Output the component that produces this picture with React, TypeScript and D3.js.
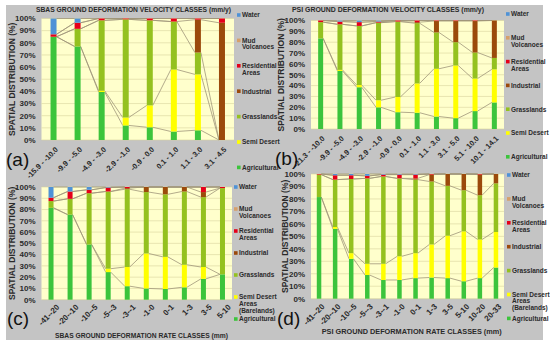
import * as d3 from "d3";
import React from "react";

// stack order, bottom to top
const classKeys = ["Agricultural", "Semi Desert", "Grasslands", "Industrial", "Residential", "Mud Volcanoes", "Water"];
const classColors = ["#3cc43c", "#ffff00", "#94c11f", "#9b4a0b", "#e5001a", "#d6a06a", "#4f92d6"];

const legendShort = [["Water"], ["Mud", "Volcanoes"], ["Residential", "Areas"], ["Industrial"], ["Grasslands"], ["Semi Desert"], ["Agricultural"]];
const legendLong = [["Water"], ["Mud", "Volcanoes"], ["Residential", "Areas"], ["Industrial"], ["Grasslands"], ["Semi Desert", "Areas", "(Barelands)"], ["Agricultural"]];

const yTicks = [0, 10, 20, 30, 40, 50, 60, 70, 80, 90, 100];

// (a) SBAS velocity classes (mm/y)
const sbasVelCats = ["-15.9 - -10.0", "-9.9 - -5.0", "-4.9 - -3.0", "-2.9 - -1.0", "-0.9 - 0.0", "0.1 - 1.0", "1.1 - 3.0", "3.1 - 4.5"];
// [agricultural, semi desert, grasslands, industrial, residential, mud volcanoes, water]
const sbasVelValues = [
  [85, 0, 0, 0, 2, 0, 13],
  [77, 0, 14.5, 0, 5, 0, 3.5],
  [39.5, 1, 58, 0, 1.5, 0, 0],
  [12, 6.5, 80.8, 0, 0.7, 0, 0],
  [10.5, 18, 70, 0, 1.5, 0, 0],
  [7, 51, 39.5, 0, 2.5, 0, 0],
  [8, 46, 18, 27, 1, 0, 0],
  [0, 0, 0, 96.5, 3.5, 0, 0],
];

// (b) PSI velocity classes (mm/y)
const psiVelCats = ["-21.3 - -10.0", "-9.9 - -5.0", "-4.9 - -3.0", "-2.9 - -1.0", "-0.9 - 0.0", "0.1 - 1.0", "1.1 - 3.0", "3.1 - 5.0", "5.1 - 10.0", "10.1 - 14.1"];
const psiVelValues = [
  [83.5, 0, 15, 0, 1.5, 0, 0],
  [53.5, 1, 42, 0, 2.5, 0, 1],
  [38.5, 2, 54.5, 0, 3.5, 0, 1.5],
  [20, 6.5, 71.5, 0, 1, 0, 1],
  [15.5, 14, 69.5, 0, 1, 0, 0],
  [15, 27, 55.5, 1, 1.5, 0, 0],
  [11.5, 44, 33.5, 10.5, 0.5, 0, 0],
  [10, 48.5, 21.5, 19.5, 0.5, 0, 0],
  [16.5, 30, 24, 29, 0.5, 0, 0],
  [24.5, 30.5, 10.5, 34.5, 0, 0, 0],
];

// (c) SBAS rate classes (mm)
const sbasRateCats = ["-41--20", "-20--10", "-10--5", "-5--3", "-3--1", "-1-0", "0-1", "1-3", "3-5", "5-10"];
const sbasRateValues = [
  [81.5, 0, 6, 0, 3, 0, 9.5],
  [75.5, 0, 14, 0, 6.5, 0, 4],
  [49, 0, 45.5, 0, 3, 0, 2.5],
  [24.5, 3, 68.5, 0, 3.5, 0, 0.5],
  [12, 17, 69, 1, 1, 0, 0],
  [10, 31, 54.5, 4.5, 0, 0, 0],
  [9.5, 28.5, 55.5, 6.5, 0, 0, 0],
  [11, 20, 65, 4, 0, 0, 0],
  [18.5, 10.5, 62, 4.5, 4.5, 0, 0],
  [22.5, 0, 76.5, 0, 1, 0, 0],
];

// (d) PSI rate classes (mm)
const psiRateCats = ["-41--20", "-20--10", "-10--5", "-5--3", "-3--1", "-1-0", "0-1", "1-3", "3-5", "5-10", "10-20", "20-33"];
const psiRateValues = [
  [81.5, 0, 18, 0, 0.5, 0, 0],
  [56, 1.5, 38, 0, 3.5, 0, 1],
  [32, 4.5, 59.5, 0, 3, 0, 1],
  [19, 9, 68.5, 0, 2, 0, 1.5],
  [15, 13, 70, 0, 1.5, 0, 0.5],
  [15, 19, 62.5, 0, 3, 0, 0.5],
  [16.5, 20, 59, 1, 3, 0, 0.5],
  [17, 26.5, 50.5, 5.5, 0.5, 0, 0],
  [16.5, 34, 40, 9.5, 0, 0, 0],
  [14, 40, 33, 13, 0, 0, 0],
  [16.5, 31, 35.5, 16.5, 0.5, 0, 0],
  [25, 28.5, 39, 7.5, 0, 0, 0],
];

const FONT = "'Liberation Sans', Arial, sans-serif";

interface PanelProps {
  cats: string[];
  values: number[][];
  left: number;
  right: number;
  top: number;
  bottom: number;
  barW: number;
  title: string;
  titleX: number;
  titleY: number;
  titleLen: number;
  legend: string[][];
  legendX: number;
  legendY: number;
  legendStep: number;
  labelSize: number;
  labelDx: number;
  labelDy: number;
  letter: string;
  letterX: number;
  letterY: number;
  yTitleX: number;
}

const Panel = (p: PanelProps) => {
  const rows = p.values.map((v, i) => {
    const r: any = { cat: p.cats[i] };
    classKeys.forEach((k, j) => (r[k] = v[j]));
    return r;
  });
  const series = d3.stack<any>().keys(classKeys)(rows);

  const x = d3.scaleBand<string>().domain(p.cats).range([p.left, p.right]).padding(0);
  const y = d3.scaleLinear().domain([0, 100]).range([p.bottom, p.top]);
  const bw = p.barW;
  const cx = (c: string) => (x(c) ?? 0) + x.bandwidth() / 2;

  return (
    <g fontFamily={FONT}>
      <rect x={p.left} y={p.top} width={p.right - p.left} height={p.bottom - p.top} fill="#ffffcc" />
      {yTicks.map((t) => (
        <line key={t} x1={p.left} x2={p.right} y1={y(t)} y2={y(t)} stroke="#d8d49e" strokeWidth={0.6} />
      ))}
      {/* series lines */}
      {series.map((s, i) =>
        s.slice(0, -1).map((d, j) => (
          <line
            key={`sl${i}-${j}`}
            x1={cx(p.cats[j]) + bw / 2}
            y1={y(d[1])}
            x2={cx(p.cats[j + 1]) - bw / 2}
            y2={y(s[j + 1][1])}
            stroke="#a0967a"
            strokeWidth={0.8}
          />
        ))
      )}
      {series.map((s, i) =>
        s.map((d, j) => (
          <rect
            key={`b${i}-${j}`}
            x={cx(p.cats[j]) - bw / 2}
            y={y(d[1])}
            width={bw}
            height={Math.max(0, y(d[0]) - y(d[1]))}
            fill={classColors[i]}
          />
        ))
      )}
      {yTicks.map((t) => (
        <text key={`yl${t}`} x={p.left - 6} y={y(t) + 2.8} textAnchor="end" fontSize={8} fontWeight="bold" fill="#2a2a2a">
          {t}%
        </text>
      ))}
      <text
        transform={`translate(${p.yTitleX},${(p.top + p.bottom) / 2}) rotate(-90)`}
        textAnchor="middle"
        fontSize={8.5}
        fontWeight="bold"
        fill="#2a2a2a"
      >
        SPATIAL DISTRIBUTION (%)
      </text>
      {p.cats.map((c) => (
        <text
          key={`xl${c}`}
          transform={`translate(${cx(c) + p.labelDx},${p.bottom + p.labelDy}) rotate(-45)`}
          textAnchor="end"
          fontSize={p.labelSize}
          fontWeight="bold"
          fill="#2a2a2a"
        >
          {c}
        </text>
      ))}
      <text
        x={p.titleX}
        y={p.titleY}
        textAnchor="middle"
        fontSize={7}
        fontWeight="bold"
        fill="#2a2a2a"
        textLength={p.titleLen}
        lengthAdjust="spacingAndGlyphs"
      >
        {p.title}
      </text>
      {p.legend.map((lines, i) => {
        const ly = p.legendY + i * p.legendStep;
        return (
          <g key={`lg${i}`}>
            <rect x={p.legendX} y={ly - 1.8} width={3.6} height={3.6} fill={classColors[classKeys.length - 1 - i]} />
            {lines.map((ln, k) => (
              <text key={k} x={p.legendX + 5} y={ly + 2.3 + k * 6.6} fontSize={6.5} fontWeight="bold" fill="#2a2a2a">
                {ln}
              </text>
            ))}
          </g>
        );
      })}
      <text x={p.letterX} y={p.letterY} fontSize={19} fill="#111">
        {p.letter}
      </text>
    </g>
  );
};

const App = () => {
  return (
    <svg width={550} height={344} style={{ position: "absolute", left: 0, top: 0 }}>
      <rect x={0} y={0} width={550} height={344} fill="#ffffff" />
      <rect x={6} y={5} width={537} height={335} fill="#c4c4c4" />
      <Panel
        cats={sbasVelCats}
        values={sbasVelValues}
        left={41.5}
        right={234}
        top={18.5}
        bottom={140}
        barW={6}
        title="SBAS GROUND DEFORMATION VELOCITY CLASSES (mm/y)"
        titleX={133.5}
        titleY={11.5}
        titleLen={195}
        legend={legendShort}
        legendX={237}
        legendY={15}
        legendStep={25.4}
        labelSize={7.5}
        labelDx={5}
        labelDy={10}
        letter="(a)"
        letterX={6}
        letterY={166}
        yTitleX={15}
      />
      <Panel
        cats={psiVelCats}
        values={psiVelValues}
        left={311}
        right={504}
        top={20.5}
        bottom={129}
        barW={5}
        title="PSI GROUND DEFORMATION VELOCITY CLASSES (mm/y)"
        titleX={388}
        titleY={12}
        titleLen={192}
        legend={legendShort}
        legendX={506}
        legendY={14}
        legendStep={23.8}
        labelSize={7.5}
        labelDx={4.5}
        labelDy={10}
        letter="(b)"
        letterX={275}
        letterY={165}
        yTitleX={284}
      />
      <Panel
        cats={sbasRateCats}
        values={sbasRateValues}
        left={41.5}
        right={232}
        top={187}
        bottom={299.7}
        barW={5}
        title="SBAS GROUND DEFORMATION RATE CLASSES (mm)"
        titleX={141.5}
        titleY={337.5}
        titleLen={173}
        legend={legendLong}
        legendX={234}
        legendY={187}
        legendStep={22}
        labelSize={8}
        labelDx={9}
        labelDy={8}
        letter="(c)"
        letterX={7}
        letterY={325}
        yTitleX={15}
      />
      <Panel
        cats={psiRateCats}
        values={psiRateValues}
        left={311}
        right={504}
        top={174}
        bottom={298.7}
        barW={4.5}
        title="PSI GROUND DEFORMATION RATE CLASSES (mm)"
        titleX={411.7}
        titleY={333.5}
        titleLen={180}
        legend={legendLong}
        legendX={507}
        legendY={175}
        legendStep={23.9}
        labelSize={8}
        labelDx={6}
        labelDy={8.5}
        letter="(d)"
        letterX={277}
        letterY={325}
        yTitleX={288}
      />
    </svg>
  );
};

export default App;
